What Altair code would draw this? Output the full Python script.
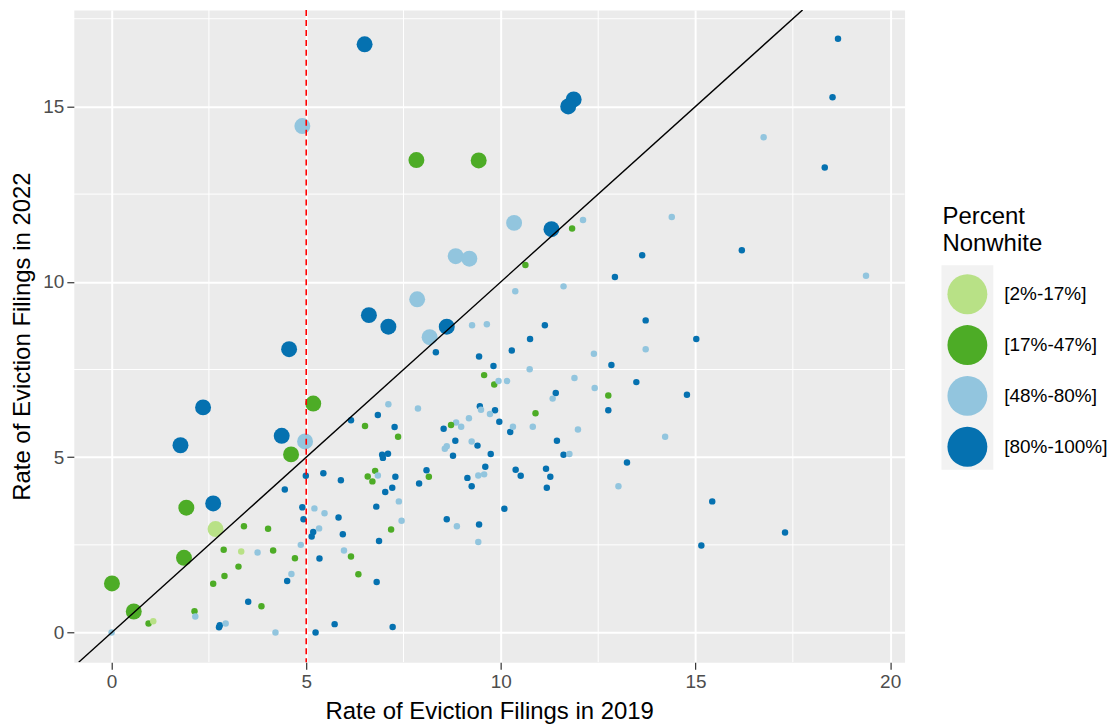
import altair as alt
import pandas as pd

# ---------------- data ----------------
groups = ["[2%-17%]", "[17%-47%]", "[48%-80%]", "[80%-100%]"]
colors = ["#B8E186", "#4DAC26", "#92C5DE", "#0571B0"]

# points above the identity line (rate rose)
x_up = [6.50, 11.87, 11.73, 4.90, 7.83, 9.43, 10.34, 11.30, 8.84, 9.19, 7.85, 6.61, 7.11, 8.61,
        8.17, 4.56, 2.35, 5.18, 4.37, 4.97, 1.77, 4.61, 1.92, 2.61, 2.67, 1.86, 0.01, 0.57]
y_up = [16.77, 15.20, 15.00, 14.44, 13.47, 13.46, 11.68, 11.50, 10.73, 10.66, 9.50, 9.05, 8.72, 8.72,
        8.42, 8.08, 6.42, 6.53, 5.61, 5.45, 5.34, 5.08, 3.56, 3.68, 2.95, 2.13, 1.40, 0.60]
g_up = [4, 4, 4, 3, 2, 2, 3, 4, 3, 3, 3, 4, 4, 4,
        3, 4, 4, 2, 4, 3, 4, 2, 2, 4, 1, 2, 2, 2]

# points on or below the identity line
x_dn = [18.66, 18.52, 16.75, 18.32, 14.39,
        13.63, 16.19, 19.38, 13.72, 15.02, 13.72, 13.48, 14.78, 14.22,
        15.43, 17.30, 15.15,
        11.83, 12.11, 12.93, 10.63, 10.37, 11.61, 9.26, 9.64, 11.13, 10.75, 10.28, 8.33, 9.44, 9.81,
        10.74, 12.39, 12.84, 11.89, 12.41, 12.76, 12.76, 11.41, 11.33, 10.89, 9.57, 9.83, 9.94, 10.16,
        9.46, 9.49, 9.85, 9.72, 9.96, 10.24, 10.31, 10.82, 11.98, 9.18, 8.85, 8.98, 8.72, 8.53,
        6.15, 6.51, 6.84, 7.11, 7.27, 7.36, 7.87,
        8.83, 9.25, 9.40, 8.61, 8.56, 9.74, 8.77, 6.95, 6.97, 7.10, 11.44, 11.61, 11.76, 13.24, 13.02,
        9.60, 10.38, 10.51, 11.16, 11.27, 11.18, 9.14, 9.42, 9.57, 9.25, 8.09, 8.15, 7.90, 7.29, 7.21,
        7.03, 6.77, 6.58, 6.70, 6.84, 7.38, 6.80, 7.45, 7.18, 6.87, 8.61, 8.87, 9.44, 9.42, 10.09,
        6.15, 6.34, 6.81, 7.22,
        4.99, 5.44, 5.89, 4.45, 4.90, 5.21, 5.47, 4.93, 5.83, 5.18, 5.14, 5.33, 5.94, 4.86, 5.97,
        5.34, 4.71, 4.62, 4.51, 3.40, 4.02, 2.88, 3.33, 3.75, 4.15, 3.26, 2.90, 2.61, 3.51, 3.85,
        2.13, 2.15, 2.76, 2.78, 2.93, 0.95, 1.07, 0.00, 4.21, 5.24, 5.73]
y_dn = [16.93, 15.26, 14.12, 13.26, 11.85,
        10.76, 10.90, 10.17, 8.90, 8.37, 8.08, 7.14, 6.78, 5.58,
        3.74, 2.85, 2.48,
        11.52, 11.76, 10.14, 10.48, 9.73, 9.87, 8.76, 8.79, 8.76, 8.37, 8.04, 7.99, 7.87, 7.60,
        7.51, 7.95, 7.63, 7.26, 6.97, 6.76, 6.34, 6.83, 6.67, 6.25, 7.34, 7.07, 7.17, 7.17,
        6.45, 6.35, 6.34, 6.23, 6.01, 5.72, 5.87, 5.87, 5.79, 6.11, 5.99, 5.87, 5.92, 5.81,
        6.05, 5.89, 6.20, 6.51, 5.86, 5.58, 6.39,
        5.47, 5.45, 5.33, 5.31, 5.24, 5.09, 5.04, 5.07, 4.98, 5.10, 5.47, 5.07, 5.09, 4.85, 4.17,
        4.73, 4.64, 4.47, 4.67, 4.44, 4.13, 4.41, 4.48, 4.51, 4.17, 4.63, 4.44, 4.25, 4.44, 4.13,
        4.01, 4.61, 4.45, 4.31, 4.48, 3.74, 3.59, 3.19, 2.94, 2.61, 3.23, 3.03, 3.08, 2.58, 3.53,
        2.17, 1.66, 1.44, 0.16,
        4.47, 4.54, 4.34, 4.08, 3.57, 3.54, 3.40, 3.23, 3.28, 2.87, 2.74, 2.97, 2.80, 2.50, 2.34,
        2.11, 2.12, 1.67, 1.47, 3.03, 2.96, 2.36, 2.31, 2.28, 2.34, 1.88, 1.61, 1.39, 0.88, 0.75,
        0.61, 0.46, 0.15, 0.21, 0.26, 0.26, 0.32, 0.00, 0.00, 0.00, 0.24]
g_dn = [4, 4, 3, 4, 3,
        4, 4, 3, 4, 4, 3, 4, 4, 3,
        4, 4, 4,
        2, 3, 4, 2, 3, 3, 3, 3, 4, 4, 4, 4, 4, 4,
        3, 3, 4, 3, 3, 2, 4, 4, 3, 2, 2, 2, 3, 3,
        4, 3, 4, 3, 4, 4, 3, 3, 3, 3, 3, 3, 2, 4,
        4, 2, 4, 3, 4, 2, 3,
        4, 3, 4, 3, 3, 4, 4, 4, 4, 4, 4, 4, 3, 4, 3,
        4, 4, 4, 4, 4, 4, 4, 3, 3, 4, 4, 2, 4, 4, 4,
        4, 2, 2, 2, 3, 3, 4, 3, 2, 4, 4, 3, 4, 3, 4,
        2, 2, 4, 4,
        4, 4, 4, 4, 4, 3, 3, 4, 4, 4, 4, 3, 4, 3, 3,
        4, 2, 3, 4, 2, 2, 2, 1, 3, 2, 2, 2, 2, 4, 2,
        2, 3, 4, 4, 3, 2, 1, 3, 3, 4, 4]

x_ticks = [0, 5, 10, 15, 20]
y_ticks = [0, 5, 10, 15]
x_minor = [2.5, 7.5, 12.5, 17.5]
y_minor = [2.5, 7.5, 12.5, 17.5]
x_domain = [-0.97, 20.37]
y_domain = [-0.845, 17.75]
cutoff_2019 = 5

# ---------------- tables ----------------
pts = pd.DataFrame({
    "x": x_dn + x_up,
    "y": y_dn + y_up,
    "g": [groups[i - 1] for i in g_dn + g_up],
})
pts["change"] = ["up" if yy > xx else "down" for xx, yy in zip(pts["x"], pts["y"])]

W, H = 833, 654
FONT = "Liberation Sans"

xs = alt.Scale(domain=x_domain, nice=False, zero=False)
ys = alt.Scale(domain=y_domain, nice=False, zero=False)

minor_x = alt.Chart(pd.DataFrame({"v": x_minor})).mark_rule(color="white", strokeWidth=1).encode(
    x=alt.X("v:Q", scale=xs))
minor_y = alt.Chart(pd.DataFrame({"v": y_minor})).mark_rule(color="white", strokeWidth=1).encode(
    y=alt.Y("v:Q", scale=ys))

points = alt.Chart(pts).mark_circle(opacity=1, strokeWidth=0).encode(
    x=alt.X("x:Q", scale=xs,
            axis=alt.Axis(values=x_ticks, title="Rate of Eviction Filings in 2019", format="d")),
    y=alt.Y("y:Q", scale=ys,
            axis=alt.Axis(values=y_ticks, title="Rate of Eviction Filings in 2022", format="d")),
    color=alt.Color("g:N", scale=alt.Scale(domain=groups, range=colors),
                    legend=alt.Legend(title=["Percent", "Nonwhite"], orient="none",
                                      legendX=871, legendY=196)),
    size=alt.Size("change:N", scale=alt.Scale(domain=["down", "up"], range=[42, 256]), legend=None),
    order=alt.Order("change:N", sort="ascending"),
)

diag_df = pd.DataFrame({"x": [max(x_domain[0], y_domain[0])], "y": [max(x_domain[0], y_domain[0])],
                        "x2": [min(x_domain[1], y_domain[1])], "y2": [min(x_domain[1], y_domain[1])]})
diag = alt.Chart(diag_df).mark_rule(color="black", strokeWidth=1.4, clip=True).encode(
    x=alt.X("x:Q", scale=xs), y=alt.Y("y:Q", scale=ys), x2="x2:Q", y2="y2:Q")

vline = alt.Chart(pd.DataFrame({"v": [cutoff_2019]})).mark_rule(
    color="#FF0000", strokeWidth=1.6, strokeDash=[6, 4]).encode(x=alt.X("v:Q", scale=xs))

key_bg = alt.Chart(pd.DataFrame({"a": [0]})).mark_rect(color="#F2F2F2", clip=False).encode(
    x=alt.value(870), x2=alt.value(922), y=alt.value(256), y2=alt.value(461))

chart = alt.layer(minor_x, minor_y, points, diag, vline, key_bg).properties(
    width=W, height=H,
    autosize=alt.AutoSizeParams(type="none"),
    padding={"left": 66, "top": 1, "right": 205, "bottom": 64},
).configure_view(fill="#EBEBEB", stroke="transparent").configure_axis(
    domain=False,
    grid=True, gridColor="white", gridWidth=2,
    tickColor="#333333", tickSize=7, tickWidth=1.2,
    labelFont=FONT, labelFontSize=19, labelColor="#4D4D4D", labelPadding=3,
    titleFont=FONT, titleFontSize=24, titleFontWeight="normal", titleColor="black",
).configure_axisX(titlePadding=8).configure_axisY(titlePadding=8).configure_legend(
    titleFont=FONT, titleFontSize=24, titleFontWeight="normal", titleColor="black",
    titleLineHeight=27, titlePadding=18,
    labelFont=FONT, labelFontSize=19, labelColor="black",
    symbolType="circle", symbolSize=1600, symbolStrokeWidth=0, symbolOpacity=1,
    symbolOffset=5, labelOffset=17, rowPadding=11, padding=0,
)

chart.save("out.html", embed_options={"renderer": "svg", "actions": False})
